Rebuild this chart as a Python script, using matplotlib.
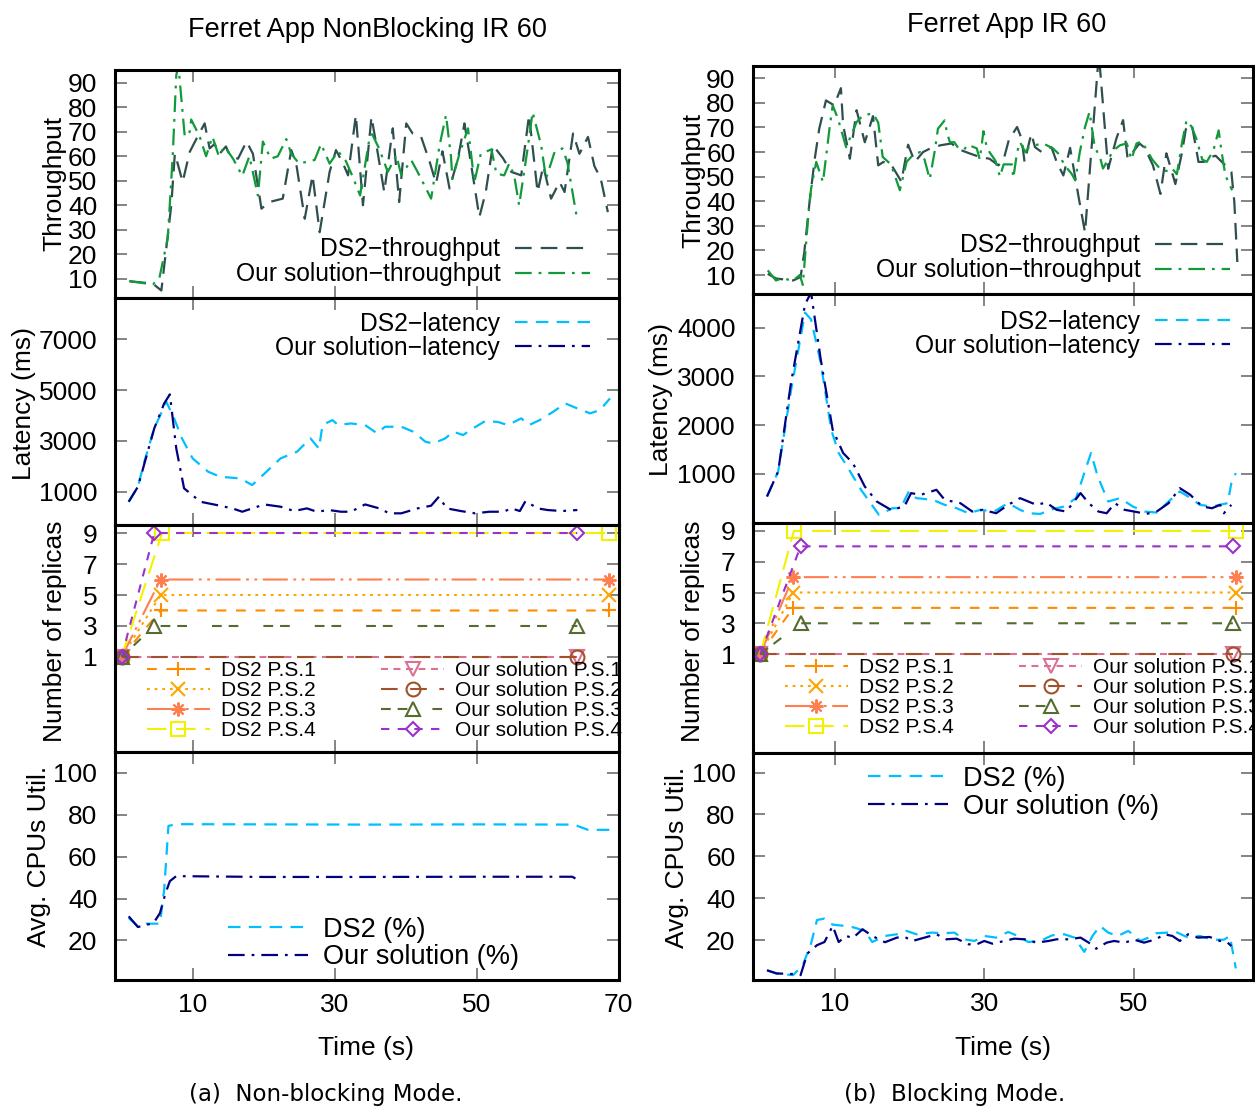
import matplotlib
matplotlib.use("Agg")
import matplotlib.pyplot as plt

plt.rcParams["font.family"] = ["Liberation Sans", "DejaVu Sans"]
plt.rcParams["lines.scale_dashes"] = False

# ---------------------------------------------------------------- data
# (a) Non-blocking mode
thr_ds2_a_t = [1.1, 4.4, 5.6, 7.0, 7.5, 7.9, 8.6, 9.6, 10.7, 11.7, 12.4, 13.1, 13.8, 14.7, 15.3, 16.4,
               17.6, 18.5, 19.7, 20.8, 22.7, 23.9, 24.6, 25.8, 26.9, 27.9, 29.3, 30.2, 31.2, 31.9,
               33.0, 34.0, 35.2, 35.9, 37.0, 38.2, 39.1, 40.1, 41.0, 42.2, 43.4, 44.3, 45.2, 46.2,
               47.4, 48.3, 49.0, 50.4, 51.3, 52.3, 53.7, 54.9, 56.3, 57.4, 58.6, 59.4, 60.5, 61.7,
               62.4, 63.6, 64.5, 65.7, 66.6, 67.5, 68.5]
thr_ds2_a = [9, 8, 5.2, 40, 61, 57, 49.5, 61.8, 68, 73.4, 63.2, 65, 61, 64, 60, 59,
             66, 61, 38.6, 41.3, 42.7, 62.5, 57, 34.5, 52.2, 29, 53.6, 62.5, 57, 52.2,
             76.8, 40, 76.1, 64.5, 45.4, 71.4, 41.3, 73.4, 69.3, 67.9, 57.7, 48.9, 62, 46.8,
             59.3, 73.4, 61, 35.2, 45.4, 64.5, 59.3, 53.6, 52.2, 76.8, 45.4, 56, 42.7, 49.5,
             45.4, 69.3, 61, 67.9, 56, 50.9, 37.2]
thr_our_a_t = [1.1, 4.4, 5.3, 6.5, 7.2, 7.7, 8.0, 8.9, 9.6, 9.8, 11.0, 11.9, 12.8, 13.7, 14.5, 15.7,
               17.0, 18.0, 19.2, 19.9, 21.0, 22.0, 23.2, 23.9, 25.0, 27.2, 28.1, 29.3, 30.5, 31.6,
               32.5, 33.6, 34.9, 35.3, 36.3, 37.5, 38.7, 39.4, 40.8, 41.7, 43.6, 44.8, 45.7, 46.4,
               46.6, 47.6, 48.8, 49.7, 50.6, 52.1, 52.8, 53.9, 54.6, 55.3, 56.0, 57.2, 57.9, 59.1,
               59.8, 61.0, 62.1, 62.8, 64.2]
thr_our_a = [9, 7.7, 10, 26.5, 60, 93, 97, 68, 70, 75, 68, 60, 68, 60, 64, 59,
             52, 60, 44, 66, 59, 60, 67, 61, 57, 58.5, 65, 57, 62, 58,
             52, 44, 67, 69, 63, 53.6, 60.4, 52.3, 58.4, 53.6, 42.7, 64.5, 76.8, 59.9,
             50.9, 61, 71.4, 49.5, 61, 62.8, 52.9, 52.2, 57, 52.2, 40, 63.2, 78, 64.5,
             50.9, 61.8, 63.2, 57.5, 33.8]

lat_ds2_a_t = [1.0, 2.3, 3.2, 4.6, 6.3, 7.4, 8.5, 10.0, 12.2, 13.9, 16.7, 18.4, 20.4, 22.4, 24.7,
               26.6, 27.8, 28.3, 29.7, 30.5, 32.3, 34.3, 36.0, 37.1, 39.4, 41.1, 42.8, 43.9, 45.6,
               46.7, 48.1, 49.5, 51.2, 53.0, 54.4, 56.3, 57.4, 58.9, 60.8, 62.5, 64.2, 66.0, 67.4, 68.8]
lat_ds2_a = [606, 1197, 2181, 3496, 4543, 3890, 3102, 2315, 1787, 1590, 1525, 1264, 1787, 2315, 2575,
             3102, 2700, 3626, 3823, 3626, 3690, 3626, 3299, 3560, 3560, 3365, 2969, 2900, 3102,
             3365, 3233, 3495, 3780, 3750, 3626, 3890, 3626, 3823, 4150, 4480, 4280, 4087, 4216, 4677]
lat_our_a_t = [1.0, 2.3, 4.6, 6.0, 6.8, 7.7, 8.8, 11.1, 13.4, 15.6, 17.0, 18.4, 20.1, 22.4, 24.3,
               26.1, 27.5, 29.2, 30.9, 32.3, 34.3, 36.3, 37.7, 39.4, 41.7, 43.6, 44.7, 45.8, 47.8,
               49.8, 51.8, 53.8, 54.9, 56.1, 56.9, 58.6, 60.0, 62.0, 64.2]
lat_our_a = [606, 1197, 3496, 4478, 4835, 2709, 1134, 606, 476, 345, 213, 345, 500, 410, 240,
             345, 213, 280, 213, 213, 500, 345, 150, 150, 345, 450, 803, 345, 240,
             150, 213, 213, 345, 240, 634, 345, 280, 240, 280]

cpu_ds2_a_t = [1.0, 2.3, 3.5, 5.4, 6.0, 6.6, 7.8, 20, 35, 50, 63.7, 65.7, 68.8]
cpu_ds2_a = [30.7, 26.7, 28, 28, 44.3, 74.7, 75.5, 75.4, 75.3, 75.4, 75.3, 72.8, 72.8]
cpu_our_a_t = [1.0, 2.3, 4.5, 5.4, 6.2, 6.8, 7.7, 20, 35, 50, 63.5, 64.2]
cpu_our_a = [31.5, 26.4, 28.3, 33, 42.7, 48.3, 50.7, 50.3, 50.3, 50.4, 50.4, 49]

# (b) Blocking mode
thr_ds2_b_t = [1.0, 2.1, 4.4, 5.4, 5.9, 6.6, 7.3, 7.9, 8.8, 9.9, 10.8, 11.1, 12.0, 12.9, 14.0, 15.1,
               15.8, 16.5, 17.6, 18.9, 19.8, 20.7, 21.8, 22.9, 24.2, 25.6, 26.7, 28.0, 29.4, 30.7,
               31.9, 32.6, 33.3, 34.4, 35.0, 35.4, 36.3, 36.8, 37.7, 39.0, 39.7, 40.6, 41.5, 42.6,
               43.5, 45.35, 46.6, 47.7, 48.6, 49.2, 49.9, 50.8, 51.5, 52.6, 53.6, 54.4, 55.1, 55.6,
               56.5, 57.0, 57.8, 58.7, 59.4, 60.3, 61.0, 62.3, 63.1, 63.5, 63.9]
thr_ds2_b = [10.5, 8.6, 7.8, 9.2, 19.4, 39.7, 57.3, 69.5, 81, 79, 86, 71, 57.3, 77, 64, 74.6,
             54.6, 56, 54.6, 48, 63, 56, 60, 61.7, 62.8, 63.5, 61, 59.5, 58, 57.3,
             54.6, 57, 65, 70.2, 65.5, 56, 67.5, 62, 60, 62, 56, 50.5, 61.7, 42.4,
             27.3, 100, 53.2, 65.5, 73, 57.5, 60, 63.5, 61.7, 54.6, 43, 59.5, 52.3, 47,
             60, 69.3, 71.3, 56, 56, 58, 58.5, 54.6, 52, 39.7, 15.3]
thr_our_b_t = [1.0, 2.1, 2.9, 4.4, 5.3, 5.7, 6.4, 6.8, 7.5, 8.4, 9.3, 9.7, 10.4, 11.5, 12.2, 12.9,
               13.8, 15.1, 15.8, 16.4, 17.5, 18.7, 19.6, 20.5, 21.4, 22.0, 22.7, 23.4, 23.8, 24.7,
               25.0, 25.4, 26.0, 26.5, 27.3, 27.8, 29.0, 29.4, 29.9, 30.3, 30.7, 31.5, 32.1, 32.6,
               33.7, 33.9, 34.4, 34.8, 35.5, 36.0, 36.8, 37.9, 39.2, 39.9, 40.8, 41.7, 42.2, 42.8,
               43.5, 44.1, 44.8, 45.5, 45.9, 47.3, 48.2, 49.1, 49.7, 50.4, 51.1, 51.8, 52.5, 53.6,
               54.4, 55.1, 55.8, 56.5, 57.1, 57.8, 58.4, 59.2, 59.8, 60.7, 61.4, 61.8, 62.3, 63.2]
thr_our_b = [11.9, 7.8, 8.6, 7.8, 10, 6, 32.9, 45, 56, 47.8, 70.2, 79, 73.6, 62, 67, 72.2,
             75, 75.7, 72, 58, 55, 44.5, 56, 59, 60, 57, 49, 61, 69.5, 72.9,
             68, 64, 64, 61.7, 61, 63, 61.5, 57, 68.5, 62.5, 60, 56.5, 50, 55,
             55, 49.5, 60, 64, 60, 62, 62.8, 63.5, 61.5, 59.5, 54.5, 51.2, 48.5, 60,
             70.2, 76.3, 62, 58, 53.3, 60.7, 62.8, 63.5, 57, 63.5, 64.3, 60.7, 57, 53,
             52.3, 53.6, 51, 64, 72.9, 70.2, 65.5, 57, 56, 60.7, 68.8, 60, 50.5, 44.5]

lat_ds2_b_t = [0.9, 2.4, 4.1, 6.0, 6.8, 8.1, 9.5, 10.5, 11.9, 13.5, 15.9, 17.7, 18.8, 19.9, 20.9,
               23.1, 24.7, 26.3, 27.9, 29.5, 31.3, 33.2, 34.8, 35.9, 37.5, 39.1, 40.7, 42.3, 43.4,
               44.3, 45.2, 46.6, 48.2, 49.9, 51.5, 53.1, 54.7, 56.2, 57.3, 58.9, 60.5, 62.6, 63.1, 63.7]
lat_ds2_b = [533, 1047, 2693, 4307, 4169, 3277, 1905, 1426, 1083, 671, 156, 293, 293, 637, 500,
             466, 362, 293, 190, 260, 225, 397, 260, 190, 176, 270, 328, 500, 1014,
             1426, 946, 431, 500, 328, 225, 204, 431, 637, 534, 362, 328, 397, 808, 1014]
lat_our_b_t = [0.9, 2.4, 4.1, 6.0, 6.8, 8.1, 9.7, 11.1, 12.4, 14.0, 15.6, 17.5, 19.3, 20.2, 21.5,
               23.6, 24.7, 26.8, 28.4, 29.8, 31.6, 33.2, 34.8, 35.9, 37.0, 38.3, 39.7, 41.0, 42.9,
               44.0, 45.3, 46.4, 47.5, 48.8, 50.1, 51.7, 53.1, 54.7, 56.2, 57.6, 59.2, 60.5, 61.6,
               62.1, 63.1]
lat_our_b = [533, 1047, 2850, 4478, 4720, 3346, 1905, 1426, 1220, 739, 431, 260, 328, 603, 568,
             671, 466, 397, 225, 260, 190, 362, 500, 431, 362, 410, 260, 225, 603,
             397, 225, 190, 397, 260, 225, 176, 225, 397, 705, 568, 328, 293, 362,
             190, 362]

cpu_ds2_b_t = [0.9, 2.2, 4.4, 5.7, 6.8, 7.6, 8.6, 9.7, 11.3, 12.6, 14.0, 15.0, 16.7, 18.3, 19.6,
               20.9, 23.0, 24.6, 26.0, 27.3, 28.7, 30.0, 31.6, 33.2, 34.5, 35.9, 37.5, 39.1, 40.7,
               42.1, 43.4, 44.5, 45.5, 46.6, 47.9, 49.3, 50.9, 52.0, 53.0, 54.7, 55.7, 57.3, 58.9,
               60.5, 62.1, 62.9, 63.7]
cpu_ds2_b = [5.6, 4, 3.3, 8, 18.4, 29.6, 30.3, 27.4, 26.8, 26, 24.4, 19.1, 22, 22.8, 24.4,
             22.8, 23.6, 23.3, 23.6, 20.4, 19.6, 22, 21.2, 23.9, 22, 19.1, 19.6, 22.3, 22.8,
             21.2, 14.4, 22, 26.8, 23.6, 22, 24.4, 19.6, 21.2, 23.3, 23.6, 23.9, 21.2, 22,
             20.2, 20.2, 22, 6.5]
cpu_our_b_t = [0.9, 2.2, 4.4, 5.4, 6.3, 7.6, 8.6, 9.7, 10.5, 11.5, 12.4, 13.7, 15.0, 16.7, 18.3,
               19.3, 20.4, 22.0, 23.6, 24.9, 26.3, 27.9, 29.0, 30.0, 31.1, 32.7, 34.0, 35.4, 37.0,
               38.6, 39.7, 41.3, 42.9, 44.0, 45.0, 46.4, 47.4, 48.8, 50.1, 51.4, 53.0, 54.1, 55.2,
               56.2, 57.3, 58.6, 60.2, 61.6, 62.6, 63.1]
cpu_our_b = [5.6, 4.1, 3.8, 3.3, 13.6, 17.6, 19.1, 26.8, 19.1, 22, 21, 25.2, 22, 19, 21.2,
             21.6, 19.6, 21.2, 22.8, 20.4, 20.7, 18, 18, 19.6, 18.3, 19.6, 20.7, 20.4, 18.8,
             19.6, 20.4, 20.4, 21.2, 18.8, 15.9, 18.8, 19.6, 18.8, 20.2, 18.8, 20.4, 22.8, 22,
             19.6, 22.8, 21.2, 21.5, 19.6, 18.8, 17.2]

# replica counts per processing stage: (sample times, replica counts)
rep_a = {
    "DS2 P.S.1": ([0, 5.5, 68.7], [1, 4, 4]),
    "DS2 P.S.2": ([0, 5.5, 68.7], [1, 5, 5]),
    "DS2 P.S.3": ([0, 5.5, 68.7], [1, 6, 6]),
    "DS2 P.S.4": ([0, 5.7, 68.7], [1, 9, 9]),
    "Our solution P.S.1": ([0, 64.2], [1, 1]),
    "Our solution P.S.2": ([0, 64.2], [1, 1]),
    "Our solution P.S.3": ([0, 4.6, 64.2], [1, 3, 3]),
    "Our solution P.S.4": ([0, 4.6, 64.2], [1, 9, 9]),
}
rep_b = {
    "DS2 P.S.1": ([0, 4.4, 63.7], [1, 4, 4]),
    "DS2 P.S.2": ([0, 4.4, 63.7], [1, 5, 5]),
    "DS2 P.S.3": ([0, 4.4, 63.7], [1, 6, 6]),
    "DS2 P.S.4": ([0, 4.5, 63.7], [1, 9, 9]),
    "Our solution P.S.1": ([0, 63.3], [1, 1]),
    "Our solution P.S.2": ([0, 63.3], [1, 1]),
    "Our solution P.S.3": ([0, 5.4, 63.3], [1, 3, 3]),
    "Our solution P.S.4": ([0, 5.4, 63.3], [1, 8, 8]),
}

# ---------------------------------------------------------------- styles
C_THR_DS2, C_THR_OUR = "#2f4f4f", "#109a3a"
C_LAT_DS2, C_LAT_OUR = "#00bfff", "#000080"
DASH = (0, (12, 6.5))
DASHDOT = (0, (12, 5, 2, 5))
LDASH = (0, (9, 6))
REP_STYLE = {
    "DS2 P.S.1": dict(color="#ff8c00", ls=(0, (7, 7)), marker="+", ms=10),
    "DS2 P.S.2": dict(color="#ffa500", ls=(0, (2, 3.5)), marker="x", ms=10),
    "DS2 P.S.3": dict(color="#ff7f50", ls=(0, (18, 4, 2, 4, 2, 4)), marker=(8, 2, 0), ms=10),
    "DS2 P.S.4": dict(color="#f2f200", ls=(0, (14, 7)), marker="s", ms=10),
    "Our solution P.S.1": dict(color="#db7093", ls=(0, (5, 4)), marker="v", ms=10),
    "Our solution P.S.2": dict(color="#a0522d", ls=(0, (12, 9)), marker="o", ms=10),
    "Our solution P.S.3": dict(color="#556b2f", ls=(0, (7, 5, 7, 18)), marker="^", ms=10),
    "Our solution P.S.4": dict(color="#9932cc", ls=(0, (6, 6)), marker="D", ms=7.5),
}

W, H = 1255, 1109
fig = plt.figure(figsize=(W / 100, H / 100), dpi=100)


def add_axes(x0, x1, y0, y1):
    return fig.add_axes([x0 / W, 1 - y1 / H, (x1 - x0) / W, (y1 - y0) / H])


def style(ax, xlim, ylim, yticks, xticks, show_x):
    ax.set_xlim(*xlim)
    ax.set_ylim(*ylim)
    ax.set_yticks(yticks)
    ax.set_xticks(xticks)
    ax.tick_params(direction="in", length=8.6, width=1.2, color="#707070",
                   top=True, right=True, labelsize=19, pad=12.5)
    ax.tick_params(axis="x", labelbottom=show_x, pad=9)
    for s in ax.spines.values():
        s.set_linewidth(2.2)
        s.set_color("black")


def ftext(x, y, s, **kw):
    fig.text(x / W, 1 - y / H, s, ha="center", va="center", **kw)


def column(xl, xr, ys, data, xlim, xticks):
    (thr_d_t, thr_d, thr_o_t, thr_o, lat_d_t, lat_d, lat_o_t, lat_o,
     rep, cpu_d_t, cpu_d, cpu_o_t, cpu_o,
     thr_ylim, lat_ylim, lat_ticks, rep_ylim, cpu_ylim, leg) = data

    # throughput
    ax = add_axes(xl, xr, ys[0], ys[1])
    ax.plot(thr_d_t, thr_d, color=C_THR_DS2, ls=DASH, lw=1.6, label="DS2\u2212throughput")
    ax.plot(thr_o_t, thr_o, color=C_THR_OUR, ls=DASHDOT, lw=1.6, label="Our solution\u2212throughput")
    style(ax, xlim, thr_ylim, range(10, 91, 10), xticks, False)
    ax.legend(loc="upper right", bbox_to_anchor=leg[0], frameon=False, markerfirst=False,
              fontsize=17.7, handlelength=3.05, handletextpad=0.6, labelspacing=0.05,
              borderpad=0, borderaxespad=0)

    # latency
    ax = add_axes(xl, xr, ys[1], ys[2])
    ax.plot(lat_d_t, lat_d, color=C_LAT_DS2, ls=LDASH, lw=1.6, label="DS2\u2212latency")
    ax.plot(lat_o_t, lat_o, color=C_LAT_OUR, ls=DASHDOT, lw=1.6, label="Our solution\u2212latency")
    style(ax, xlim, lat_ylim, lat_ticks, xticks, False)
    ax.legend(loc="upper right", bbox_to_anchor=leg[1], frameon=False, markerfirst=False,
              fontsize=17.7, handlelength=3.05, handletextpad=0.6, labelspacing=0.0,
              borderpad=0, borderaxespad=0)

    # replicas
    ax = add_axes(xl, xr, ys[2], ys[3])
    for name, (t, vals) in rep.items():
        st = REP_STYLE[name]
        ax.plot(t, vals, color=st["color"], ls=st["ls"], lw=1.5, marker=st["marker"],
                ms=st["ms"], mfc="none", mew=1.5, label=name)
    style(ax, xlim, rep_ylim, [1, 3, 5, 7, 9], xticks, False)
    ax.legend(loc="upper left", bbox_to_anchor=leg[2], frameon=False, ncol=2, numpoints=1,
              fontsize=15, handlelength=3.0, handletextpad=0.55, columnspacing=3.15,
              labelspacing=0.05, borderpad=0, borderaxespad=0)

    # cpu utilisation
    ax = add_axes(xl, xr, ys[3], ys[4])
    ax.plot(cpu_d_t, cpu_d, color=C_LAT_DS2, ls=LDASH, lw=1.6, label="DS2 (%)")
    ax.plot(cpu_o_t, cpu_o, color=C_LAT_OUR, ls=DASHDOT, lw=1.6, label="Our solution (%)")
    style(ax, xlim, cpu_ylim, range(20, 101, 20), xticks, True)
    ax.legend(loc="upper left", bbox_to_anchor=leg[3], frameon=False, fontsize=19.5,
              handlelength=2.96, handletextpad=0.55, labelspacing=0.066,
              borderpad=0, borderaxespad=0)


column(114.5, 618.5, [70, 297.5, 524.5, 751.5, 980],
       (thr_ds2_a_t, thr_ds2_a, thr_our_a_t, thr_our_a, lat_ds2_a_t, lat_ds2_a, lat_our_a_t, lat_our_a,
        rep_a, cpu_ds2_a_t, cpu_ds2_a, cpu_our_a_t, cpu_our_a,
        (2.35, 95.2), (-290, 8650), [1000, 3000, 5000, 7000], (-5.1, 9.55), (1.1, 110.2),
        [(0.9435, 0.265), (0.9435, 0.938), (0.0645, 0.399), (0.225, 0.277)]),
       (-1, 70), [10, 30, 50, 70])

column(752.8, 1253, [66, 293.5, 522.5, 752.5, 979.5],
       (thr_ds2_b_t, thr_ds2_b, thr_our_b_t, thr_our_b, lat_ds2_b_t, lat_ds2_b, lat_our_b_t, lat_our_b,
        rep_b, cpu_ds2_b_t, cpu_ds2_b, cpu_our_b_t, cpu_our_b,
        (2.5, 95), (0, 4700), [1000, 2000, 3000, 4000], (-5.4, 9.55), (1.2, 109.6),
        [(0.954, 0.265), (0.954, 0.930), (0.0644, 0.411), (0.2303, 0.941)]),
       (-1, 66), [10, 30, 50])

# titles, axis labels, captions
ftext(367, 30, "Ferret App NonBlocking IR 60", fontsize=19.5)
ftext(1007, 25, "Ferret App IR 60", fontsize=19.5)
for x, y, s in [(54, 183, "Throughput"), (24, 404, "Latency (ms)"), (55, 631, "Number of replicas"),
                (39, 856, "Avg. CPUs Util."), (693, 180, "Throughput"), (661, 400, "Latency (ms)"),
                (693, 631, "Number of replicas"), (677, 857, "Avg. CPUs Util.")]:
    ftext(x, y, s, fontsize=19, rotation=90)
ftext(366, 1048, "Time (s)", fontsize=19)
ftext(1003, 1048, "Time (s)", fontsize=19)
ftext(325.5, 1095, "(a)  Non-blocking Mode.", fontsize=16.5, family="DejaVu Sans")
ftext(955, 1095, "(b)  Blocking Mode.", fontsize=16.5, family="DejaVu Sans")

fig.savefig("out.png", dpi=100)
